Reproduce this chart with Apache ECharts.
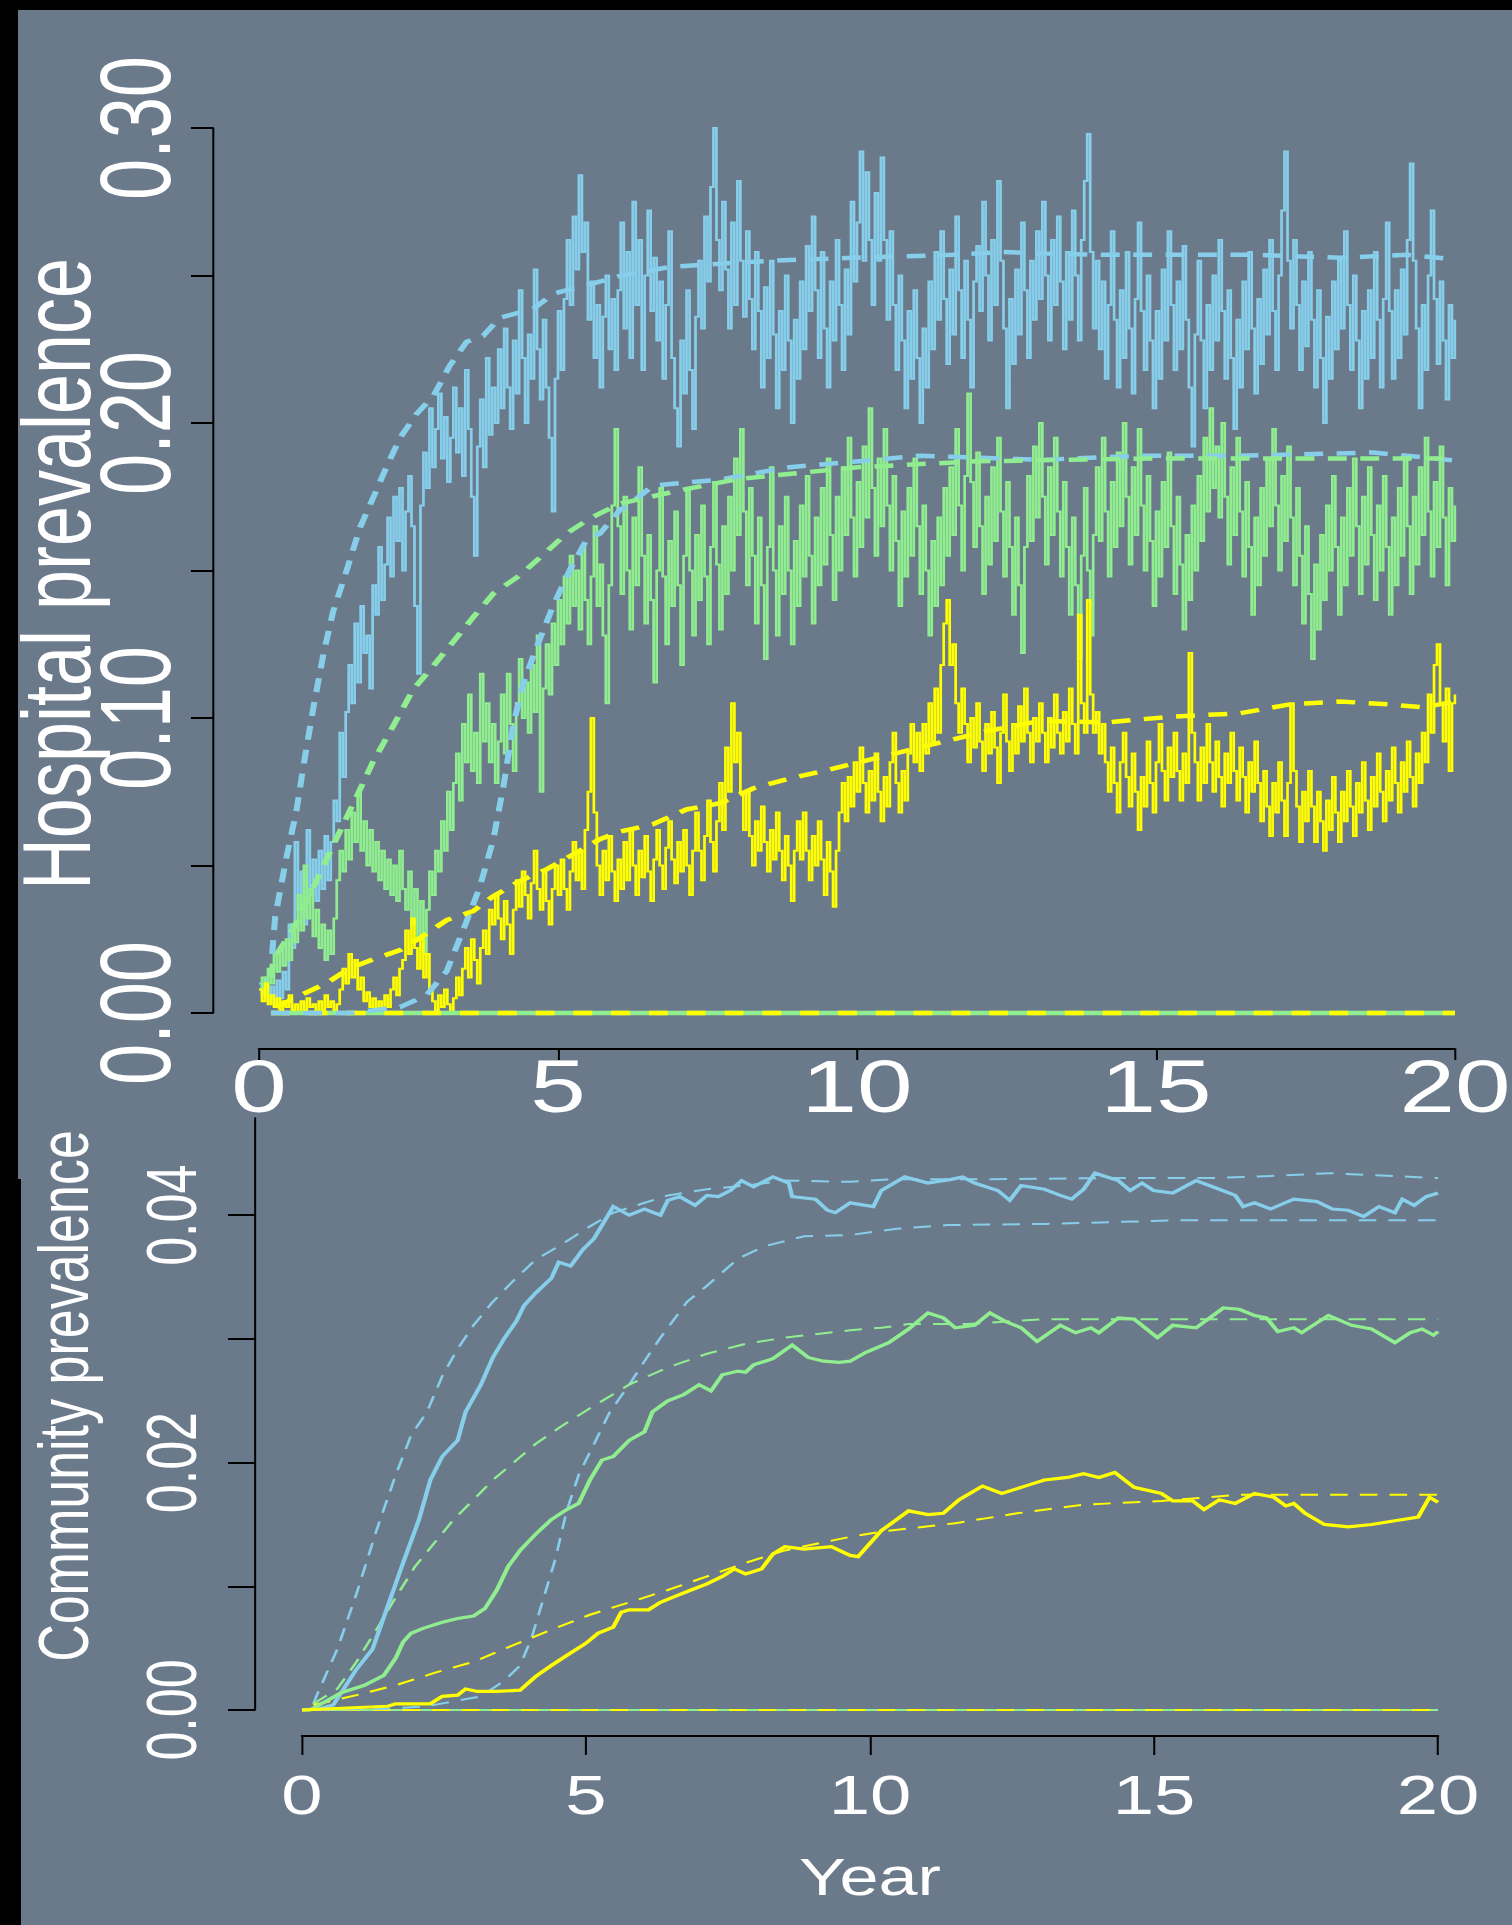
<!DOCTYPE html>
<html><head><meta charset="utf-8">
<script src="https://cdn.jsdelivr.net/npm/echarts@6/dist/echarts.min.js"></script>
<style>
html,body{margin:0;padding:0;background:#000;width:1512px;height:1925px;overflow:hidden;}
#bg1{position:absolute;left:18px;top:10px;width:1494px;height:1169px;background:#6b7a8b;}
#bg2{position:absolute;left:21px;top:1179px;width:1491px;height:746px;background:#6b7a8b;}
#chart{position:absolute;left:0;top:0;width:1120px;height:1925px;transform:scaleX(1.35);transform-origin:0 0;}
</style></head><body>
<div id="bg1"></div><div id="bg2"></div><div id="chart"></div>
<script>
// ---------- DATA ----------
const xTicks = [0, 5, 10, 15, 20];
const hospYTicks = [0, 0.05, 0.10, 0.15, 0.20, 0.25, 0.30];
const hospYLabels = [0, 0.10, 0.20, 0.30];
const commYTicks = [0, 0.01, 0.02, 0.03, 0.04];
const commYLabels = [0, 0.02, 0.04];
const hospStep = 0.05; // years between hospital samples

const hospBlue = [
.010,.006,.012,.004,.009,.003,.011,.005,.014,.008,.030,.022,.058,.035,.048,.030,.062,.040,.052,.038,
.055,.042,.060,.045,.058,.072,.065,.095,.080,.102,.118,.105,.132,.112,.138,.122,.128,.110,.145,.135,
.158,.140,.152,.168,.148,.175,.160,.178,.150,.170,.182,.165,.138,.115,.172,.190,.178,.205,.185,.198,
.210,.188,.202,.180,.195,.212,.190,.205,.182,.218,.198,.175,.155,.192,.208,.185,.222,.196,.212,.200,
.225,.205,.232,.212,.198,.228,.210,.245,.222,.200,.230,.215,.252,.225,.208,.235,.212,.195,.170,.215,
.238,.218,.242,.262,.240,.270,.252,.284,.258,.268,.235,.248,.222,.240,.212,.236,.250,.225,.242,.218,
.245,.268,.232,.258,.222,.275,.240,.262,.218,.250,.272,.238,.256,.228,.248,.215,.240,.265,.222,.205,
.192,.228,.210,.245,.218,.198,.236,.255,.232,.270,.248,.280,.300,.262,.245,.275,.252,.232,.268,.240,
.282,.255,.236,.265,.242,.225,.258,.238,.212,.246,.222,.255,.230,.205,.238,.218,.250,.228,.200,.235,
.215,.248,.225,.260,.238,.270,.245,.222,.258,.232,.212,.248,.228,.262,.240,.218,.252,.230,.275,.248,
.268,.292,.255,.285,.262,.240,.278,.255,.290,.262,.235,.265,.240,.218,.250,.228,.205,.238,.215,.245,
.222,.200,.232,.212,.248,.225,.258,.235,.265,.242,.220,.252,.230,.270,.245,.222,.255,.235,.212,.248,
.260,.238,.275,.250,.228,.262,.240,.282,.255,.232,.205,.242,.220,.252,.230,.268,.245,.222,.255,.235,
.265,.242,.275,.250,.228,.262,.240,.270,.248,.225,.258,.235,.272,.250,.228,.262,.282,.298,.258,.232,
.255,.225,.248,.215,.240,.265,.235,.212,.245,.222,.258,.232,.210,.242,.268,.238,.218,.250,.228,.205,
.238,.215,.252,.228,.265,.240,.218,.248,.225,.260,.235,.212,.192,.230,.255,.228,.205,.240,.218,.250,
.228,.262,.238,.215,.245,.222,.198,.235,.212,.248,.225,.258,.232,.210,.242,.220,.252,.230,.262,.238,
.218,.250,.272,.292,.255,.232,.262,.240,.218,.248,.226,.258,.235,.212,.245,.222,.200,.236,.215,.248,
.225,.255,.232,.265,.240,.218,.250,.228,.205,.238,.215,.245,.222,.258,.235,.212,.242,.268,.238,.215,
.245,.222,.252,.230,.262,.288,.255,.232,.205,.240,.218,.250,.272,.242,.220,.248,.228,.208,.240,.222,
.235];

const hospGreen = [
.008,.012,.006,.015,.010,.020,.014,.022,.016,.025,.018,.030,.024,.040,.028,.050,.032,.042,.026,.035,
.022,.030,.018,.028,.020,.032,.045,.055,.048,.062,.052,.068,.058,.075,.055,.065,.050,.062,.048,.058,
.045,.055,.042,.052,.040,.050,.038,.055,.042,.035,.048,.030,.042,.025,.038,.020,.035,.048,.040,.055,
.048,.065,.055,.075,.062,.078,.088,.072,.098,.085,.108,.082,.095,.078,.115,.092,.105,.085,.098,.078,
.092,.108,.088,.115,.098,.082,.105,.120,.100,.112,.095,.118,.102,.128,.075,.110,.125,.108,.132,.118,
.140,.125,.148,.132,.155,.138,.150,.130,.158,.140,.125,.148,.165,.138,.152,.128,.105,.145,.172,.198,
.165,.142,.175,.150,.130,.168,.145,.185,.155,.132,.162,.140,.112,.150,.178,.148,.125,.160,.138,.170,
.145,.118,.155,.178,.150,.128,.162,.140,.172,.148,.125,.158,.180,.152,.130,.165,.142,.175,.150,.188,
.162,.198,.170,.145,.178,.155,.132,.168,.145,.120,.158,.185,.150,.128,.165,.142,.175,.150,.125,.160,
.138,.172,.148,.182,.155,.132,.168,.145,.178,.152,.188,.162,.140,.175,.150,.185,.162,.195,.168,.148,
.180,.158,.192,.168,.205,.178,.155,.188,.165,.198,.172,.150,.182,.160,.138,.170,.148,.178,.155,.188,
.165,.142,.172,.150,.128,.160,.138,.168,.145,.178,.155,.185,.162,.198,.172,.150,.182,.210,.180,.158,
.190,.165,.142,.175,.152,.185,.160,.195,.170,.148,.180,.158,.135,.168,.145,.122,.158,.182,.160,.192,
.168,.200,.175,.152,.185,.162,.195,.170,.148,.180,.158,.135,.168,.145,.120,.155,.178,.150,.128,.162,
.185,.160,.195,.170,.148,.180,.158,.190,.165,.200,.175,.152,.185,.162,.198,.172,.150,.182,.160,.138,
.170,.148,.180,.158,.190,.165,.142,.175,.152,.130,.162,.140,.172,.150,.182,.160,.195,.170,.205,.178,
.192,.168,.200,.175,.152,.185,.162,.195,.170,.148,.180,.158,.135,.168,.145,.178,.155,.188,.165,.198,
.172,.150,.182,.160,.192,.168,.145,.178,.155,.132,.165,.142,.120,.152,.130,.162,.140,.172,.150,.182,
.158,.135,.168,.145,.178,.155,.188,.165,.142,.175,.152,.185,.162,.140,.172,.150,.182,.158,.135,.168,
.145,.178,.155,.188,.165,.142,.175,.152,.185,.162,.195,.170,.148,.180,.158,.192,.168,.145,.178,.160,
.172];

const hospYellow = [
.008,.004,.010,.003,.006,.002,.005,.001,.004,.002,.006,.001,.003,.000,.004,.001,.005,.002,.003,.000,
.004,.001,.006,.002,.004,.001,.003,.008,.015,.010,.020,.012,.018,.008,.012,.004,.007,.002,.005,.001,
.004,.001,.006,.002,.008,.012,.006,.015,.018,.028,.020,.032,.022,.015,.025,.012,.020,.008,.004,.001,
.006,.002,.008,.003,.000,.005,.012,.006,.015,.022,.012,.025,.018,.010,.022,.028,.020,.035,.030,.040,
.032,.025,.038,.030,.020,.035,.045,.036,.048,.040,.032,.044,.055,.042,.035,.048,.038,.030,.042,.050,
.040,.052,.042,.035,.048,.058,.045,.055,.042,.062,.075,.100,.068,.050,.040,.055,.045,.060,.048,.038,
.052,.042,.058,.045,.062,.050,.040,.055,.046,.060,.048,.038,.052,.062,.050,.042,.056,.065,.052,.044,
.058,.048,.062,.050,.040,.055,.068,.055,.045,.060,.072,.058,.048,.065,.078,.062,.090,.075,.105,.085,
.095,.075,.062,.075,.060,.050,.065,.055,.070,.058,.048,.062,.052,.068,.055,.045,.060,.050,.038,.055,
.065,.052,.068,.055,.045,.060,.050,.065,.052,.040,.058,.048,.036,.055,.068,.078,.065,.080,.070,.085,
.075,.090,.078,.068,.082,.072,.088,.075,.065,.080,.070,.085,.095,.078,.068,.082,.072,.088,.098,.085,
.095,.082,.098,.088,.105,.092,.110,.095,.118,.132,.140,.118,.125,.105,.095,.110,.098,.085,.100,.090,
.105,.092,.082,.098,.088,.102,.090,.078,.095,.108,.092,.082,.098,.088,.104,.092,.110,.095,.085,.100,
.092,.105,.095,.085,.100,.090,.108,.095,.088,.102,.092,.110,.098,.088,.135,.105,.095,.140,.108,.095,
.102,.088,.098,.085,.075,.090,.078,.068,.085,.095,.080,.070,.088,.075,.062,.080,.070,.092,.078,.068,
.085,.098,.082,.072,.090,.080,.095,.082,.072,.088,.078,.122,.095,.085,.072,.090,.078,.098,.085,.075,
.092,.080,.070,.088,.078,.095,.082,.072,.090,.080,.068,.085,.075,.092,.078,.065,.082,.070,.060,.078,
.068,.085,.072,.060,.078,.105,.082,.070,.058,.075,.065,.082,.070,.058,.075,.065,.055,.072,.062,.080,
.068,.058,.075,.065,.082,.070,.060,.078,.068,.085,.072,.062,.080,.070,.088,.075,.065,.082,.072,.090,
.078,.068,.085,.075,.092,.080,.070,.088,.078,.095,.085,.108,.095,.118,.125,.105,.092,.110,.082,.105,
.108];

// deterministic model curves (hospital), [year, prevalence]
const hospBlueDashA = [[0.22,0.020],[0.27,0.0325],[0.46,0.0528],[0.63,0.069],[0.74,0.0833],[0.91,0.1036],[1.08,0.1219],[1.24,0.1361],[1.47,0.1503],[1.69,0.1646],[1.91,0.1747],[2.13,0.185],[2.36,0.195],[2.64,0.2032],[2.92,0.2093],[3.19,0.2194],[3.47,0.2275],[3.75,0.2296],[4.03,0.2357],[4.59,0.2387],[4.92,0.2438],[5.70,0.2479],[6.04,0.2499],[6.87,0.2529],[7.71,0.254],[8.55,0.255],[9.94,0.256],[11.6,0.257],[12.45,0.258],[13.06,0.2575],[14.17,0.257],[15.29,0.257],[16.68,0.257],[18.08,0.256],[19.19,0.257],[20,0.2555]];
const hospBlueDashB = [[0.2,0],[1.52,0],[2.36,0.002],[2.80,0.006],[3.14,0.0142],[3.42,0.0284],[3.69,0.0426],[3.92,0.0589],[4.09,0.0772],[4.25,0.0975],[4.42,0.1117],[4.64,0.1239],[4.92,0.1381],[5.20,0.1503],[5.48,0.1605],[5.70,0.1625],[6.04,0.1706],[6.15,0.1717],[6.59,0.1788],[7.71,0.1808],[8.82,0.1849],[9.94,0.1869],[11.05,0.1889],[13.06,0.1875],[14.73,0.1889],[16.4,0.1889],[18.63,0.19],[20,0.1873]];
const hospGreenDash = [[0.2,0.012],[0.24,0.0182],[0.57,0.0284],[0.91,0.0426],[1.24,0.0568],[1.58,0.0711],[1.91,0.0853],[2.25,0.0975],[2.58,0.1097],[2.92,0.1178],[3.25,0.1259],[3.58,0.1341],[3.92,0.1422],[4.36,0.1483],[4.81,0.1564],[5.14,0.1625],[5.53,0.1676],[6.04,0.1727],[7,0.177],[8,0.181],[10,0.185],[12,0.187],[15,0.188],[20,0.188]];
const hospYellowDash = [[0.29,0.002],[0.69,0.006],[1.13,0.0101],[1.52,0.0152],[1.91,0.0182],[2.36,0.0213],[2.69,0.0254],[3.14,0.0315],[3.58,0.0345],[3.92,0.0396],[4.36,0.0447],[4.81,0.0487],[5.26,0.0538],[5.70,0.0589],[6.04,0.0615],[6.59,0.064],[7.15,0.069],[7.71,0.0711],[8.27,0.0762],[8.82,0.0792],[9.49,0.0823],[10.5,0.0873],[11.33,0.0914],[12.17,0.0955],[13.06,0.099],[14.17,0.0985],[15.29,0.1005],[16.4,0.1016],[17.24,0.1046],[18.08,0.1056],[18.91,0.1046],[19.47,0.1036],[20,0.1056]];
const extinctStrain = [[0.2,0],[20,0]];

// community prevalence, [year, prevalence]
const commBlue = [[0,0],[0.3,0.0001],[0.55,0.0004],[0.96,0.0033],[1.24,0.0049],[1.51,0.0084],[1.78,0.0119],[2.06,0.0154],[2.26,0.0186],[2.47,0.0205],[2.74,0.0218],[2.88,0.0241],[3.15,0.0263],[3.36,0.0285],[3.57,0.0301],[3.77,0.0314],[3.91,0.0327],[4.11,0.0337],[4.39,0.0349],[4.52,0.0362],[4.73,0.0359],[4.94,0.0372],[5.14,0.0381],[5.35,0.0397],[5.48,0.0407],[5.76,0.04],[6.03,0.0405],[6.31,0.04],[6.44,0.0412],[6.65,0.0415],[6.92,0.0408],[7.13,0.0416],[7.33,0.0415],[7.54,0.042],[7.74,0.0428],[7.95,0.0423],[8.29,0.0431],[8.57,0.0426],[8.63,0.0415],[9.04,0.0413],[9.25,0.0404],[9.39,0.0402],[9.65,0.041],[10.06,0.0407],[10.2,0.042],[10.61,0.0431],[11.02,0.0426],[11.43,0.0429],[11.63,0.0431],[11.84,0.0426],[12.25,0.042],[12.46,0.0412],[12.66,0.0424],[13.07,0.0421],[13.35,0.0416],[13.55,0.0413],[13.76,0.0421],[13.96,0.0434],[14.37,0.0428],[14.58,0.042],[14.79,0.0426],[14.99,0.042],[15.33,0.0418],[15.74,0.0428],[16.15,0.0421],[16.43,0.0416],[16.57,0.0407],[16.77,0.041],[17.05,0.0405],[17.46,0.0413],[17.87,0.0411],[18.14,0.0405],[18.42,0.0404],[18.69,0.0399],[18.96,0.0407],[19.24,0.0402],[19.37,0.0413],[19.58,0.0408],[19.79,0.0415],[20,0.0418]];
const commBlueDashA = [[0.2,0.0005],[0.28,0.0014],[0.62,0.0049],[0.96,0.0094],[1.31,0.0145],[1.65,0.019],[1.92,0.0222],[2.2,0.0241],[2.47,0.027],[2.74,0.0292],[3.02,0.0311],[3.36,0.033],[3.7,0.0346],[4.11,0.0364],[4.52,0.0375],[5.07,0.0391],[5.48,0.0402],[6.44,0.0416],[7.13,0.0421],[7.81,0.0424],[8.5,0.0428],[9.65,0.0427],[10.33,0.0429],[12,0.0429],[14,0.043],[16,0.043],[17.2,0.0432],[18.1,0.0434],[20,0.043]];
const commBlueDashB = [[0.2,0],[1.5,0.0001],[2.2,0.0003],[2.67,0.0007],[3.15,0.0011],[3.57,0.0024],[3.84,0.0036],[4.04,0.0058],[4.25,0.009],[4.46,0.0122],[4.66,0.0161],[4.87,0.019],[5.14,0.0215],[5.42,0.0241],[5.76,0.0263],[6.03,0.0282],[6.31,0.0301],[6.78,0.033],[7.13,0.0343],[7.68,0.0365],[8.15,0.0375],[8.84,0.0383],[9.65,0.0384],[10.47,0.0389],[11.36,0.0392],[13.07,0.0393],[15.54,0.0396],[17.18,0.0396],[20,0.0396]];
const commGreen = [[0,0],[0.14,0],[0.42,0.0007],[0.69,0.0014],[1.1,0.002],[1.44,0.0028],[1.65,0.0042],[1.78,0.0055],[1.92,0.0062],[2.13,0.0066],[2.47,0.0071],[2.74,0.0074],[3.02,0.0076],[3.22,0.0082],[3.43,0.0097],[3.63,0.0116],[3.84,0.0129],[4.11,0.0142],[4.39,0.0154],[4.66,0.0162],[4.87,0.0167],[5.07,0.0186],[5.28,0.0202],[5.48,0.0205],[5.76,0.0218],[6.03,0.0225],[6.17,0.0241],[6.44,0.025],[6.72,0.0255],[6.99,0.0263],[7.2,0.0258],[7.4,0.0271],[7.68,0.0274],[7.81,0.0273],[7.95,0.0279],[8.29,0.0284],[8.63,0.0295],[8.91,0.0285],[9.18,0.0282],[9.46,0.0281],[9.65,0.0282],[9.92,0.0289],[10.33,0.0297],[10.68,0.0308],[11.02,0.0321],[11.29,0.0317],[11.5,0.0309],[11.84,0.0311],[12.11,0.0321],[12.39,0.0314],[12.66,0.0309],[12.94,0.0298],[13.35,0.0311],[13.62,0.0305],[13.89,0.0309],[14.03,0.0305],[14.37,0.0317],[14.65,0.0316],[15.06,0.0301],[15.33,0.0311],[15.74,0.0309],[16.22,0.0325],[16.5,0.0324],[16.77,0.0319],[16.98,0.0317],[17.18,0.0306],[17.46,0.0309],[17.6,0.0305],[18.07,0.0319],[18.48,0.0311],[18.83,0.0308],[19.24,0.0297],[19.51,0.0305],[19.72,0.0308],[19.92,0.0303],[20,0.0306]];
const commGreenDash = [[0.2,0.0005],[0.62,0.0017],[0.96,0.0039],[1.31,0.0065],[1.65,0.0091],[1.99,0.0116],[2.33,0.0135],[2.67,0.0154],[3.02,0.017],[3.36,0.0186],[3.7,0.0199],[4.11,0.0215],[4.52,0.0228],[5.07,0.0244],[5.76,0.0263],[6.44,0.0277],[7.13,0.0288],[7.81,0.0296],[8.5,0.0301],[9.65,0.0307],[10.2,0.0309],[10.68,0.0312],[11.7,0.0312],[13.07,0.0316],[15.13,0.0316],[20,0.0316]];
const commYellow = [[0,0],[1.51,0.0003],[1.65,0.0005],[2.26,0.0005],[2.47,0.0011],[2.74,0.0012],[2.88,0.0017],[3.09,0.0015],[3.43,0.0015],[3.84,0.0016],[4.11,0.0027],[4.39,0.0036],[4.66,0.0044],[5,0.0054],[5.21,0.0062],[5.48,0.0067],[5.62,0.0079],[5.76,0.0081],[6.1,0.0081],[6.31,0.0087],[6.58,0.0092],[6.85,0.0097],[7.13,0.0102],[7.4,0.0108],[7.61,0.0114],[7.81,0.011],[8.09,0.0114],[8.29,0.0126],[8.5,0.0132],[8.84,0.013],[9.32,0.0132],[9.65,0.0125],[9.79,0.0124],[10.2,0.0145],[10.68,0.0161],[11.02,0.0158],[11.29,0.0159],[11.57,0.017],[11.98,0.0181],[12.32,0.0175],[12.73,0.0181],[13.07,0.0186],[13.48,0.0188],[13.76,0.0191],[14.03,0.0188],[14.31,0.0192],[14.65,0.018],[15.13,0.0175],[15.33,0.0169],[15.68,0.0169],[15.88,0.0162],[16.15,0.017],[16.43,0.0167],[16.77,0.0175],[17.11,0.0172],[17.32,0.0165],[17.46,0.0167],[17.66,0.0159],[18,0.015],[18.42,0.0148],[18.83,0.015],[19.24,0.0153],[19.65,0.0156],[19.85,0.0172],[20,0.0168]];
const commYellowDash = [[0.2,0.0004],[0.96,0.0012],[1.65,0.002],[2.33,0.003],[3.02,0.0039],[3.7,0.0052],[4.39,0.0065],[5.07,0.0077],[5.76,0.0087],[6.44,0.0097],[7.13,0.0108],[7.81,0.0119],[8.5,0.0129],[9.65,0.014],[10.33,0.0145],[11.5,0.0151],[12.59,0.0159],[13.76,0.0166],[15.13,0.0169],[16.5,0.0174],[20,0.0174]];

// ---------- CHART ----------
const BLUE = '#87ceeb', GREEN = '#90ee90', YELLOW = '#ffff00';
const FONT = "'Liberation Sans', Arial, Helvetica, sans-serif";
const asSeries = (vals) => vals.map((v, i) => [i * hospStep, v]);

const chart = echarts.init(document.getElementById('chart'), null, {renderer: 'svg'});

function xAxisCfg(grid, offset, tickLen, fs, margin, name, nameGap) {
  return {
    type: 'value', gridIndex: grid, min: 0, max: 20, offset: offset, position: 'bottom',
    axisLine: {show: true, onZero: false, lineStyle: {color: '#000', width: 2}},
    axisTick: {show: true, length: tickLen, customValues: xTicks, lineStyle: {color: '#000', width: 1.5}},
    axisLabel: {customValues: xTicks, color: '#fff', fontSize: fs, lineHeight: fs, margin: margin, fontFamily: FONT},
    splitLine: {show: false},
    name: name, nameLocation: 'middle', nameGap: nameGap, nameMoveOverlap: false,
    nameTextStyle: {color: '#fff', fontSize: 52, lineHeight: 52, fontFamily: FONT}
  };
}
function yAxisCfg(grid, max, offset, tickLen, ticks, labels, fs, margin, name, nameFs, nameGap, namePad) {
  return {
    type: 'value', gridIndex: grid, min: 0, max: max, offset: offset, position: 'left',
    axisLine: {show: true, onZero: false, lineStyle: {color: '#000', width: 1.5}},
    axisTick: {show: true, length: tickLen, customValues: ticks, lineStyle: {color: '#000', width: 2}},
    axisLabel: {customValues: labels, rotate: 90, color: '#fff', fontSize: fs, lineHeight: fs, margin: margin,
      fontFamily: FONT, formatter: v => Number(v).toFixed(2)},
    splitLine: {show: false},
    name: name, nameLocation: 'middle', nameRotate: 90, nameGap: nameGap, nameMoveOverlap: false,
    nameTextStyle: {color: '#fff', fontSize: nameFs, lineHeight: nameFs, fontFamily: FONT, padding: namePad}
  };
}
function line(xi, data, color, width, dash, step, z) {
  return {
    type: 'line', xAxisIndex: xi, yAxisIndex: xi, data: data, symbol: 'none', clip: false,
    step: step || false, silent: true, z: z || 2,
    lineStyle: {color: color, width: width, type: dash ? dash : 'solid', cap: 'butt', join: 'miter'}
  };
}

chart.setOption({
  animation: false,
  backgroundColor: 'transparent',
  grid: [
    {left: 191.85, top: 128, width: 885.9, height: 885, containLabel: false, outerBoundsMode: 'none'},
    {left: 223.7, top: 1118, width: 841.5, height: 592, containLabel: false, outerBoundsMode: 'none'}
  ],
  xAxis: [
    xAxisCfg(0, 36, 11, 74, 0.5, '', 0),
    xAxisCfg(1, 26, 19, 55, 31.5, 'Year', 115)
  ],
  yAxis: [
    yAxisCfg(0, 0.3, 34.1, 16.3, hospYTicks, hospYLabels, 74, 20.8, 'Hospital prevalence', 72, 79.9, [0, 7, 0, 0]),
    yAxisCfg(1, 0.04786, 34.8, 20, commYTicks, commYLabels, 52, 35.6, 'Community prevalence', 52, 115.5, [0, 0, 0, 36])
  ],
  series: [
    line(0, asSeries(hospBlue), BLUE, 2.0, null, 'end', 2),
    line(0, asSeries(hospGreen), GREEN, 2.0, null, 'end', 3),
    line(0, asSeries(hospYellow), YELLOW, 2.0, null, 'end', 4),
    line(0, extinctStrain, GREEN, 4.5, null, false, 5),
    line(0, extinctStrain, YELLOW, 4.5, [14, 14], false, 6),
    line(0, hospBlueDashA, BLUE, 4.5, [14, 10], false, 7),
    line(0, hospBlueDashB, BLUE, 4.5, [14, 10], false, 7),
    line(0, hospGreenDash, GREEN, 4.5, [14, 10], false, 7),
    line(0, hospYellowDash, YELLOW, 4.5, [14, 10], false, 7),

    line(1, extinctStrain, GREEN, 2, null, false, 2),
    line(1, extinctStrain, YELLOW, 2, [13, 9], false, 3),
    line(1, commBlueDashA, BLUE, 2, [13, 9], false, 4),
    line(1, commBlueDashB, BLUE, 2, [13, 9], false, 4),
    line(1, commGreenDash, GREEN, 2, [13, 9], false, 4),
    line(1, commYellowDash, YELLOW, 2, [13, 9], false, 4),
    line(1, commBlue, BLUE, 3.2, null, false, 5),
    line(1, commGreen, GREEN, 3.2, null, false, 5),
    line(1, commYellow, YELLOW, 3.2, null, false, 5)
  ]
});
</script></body></html>
